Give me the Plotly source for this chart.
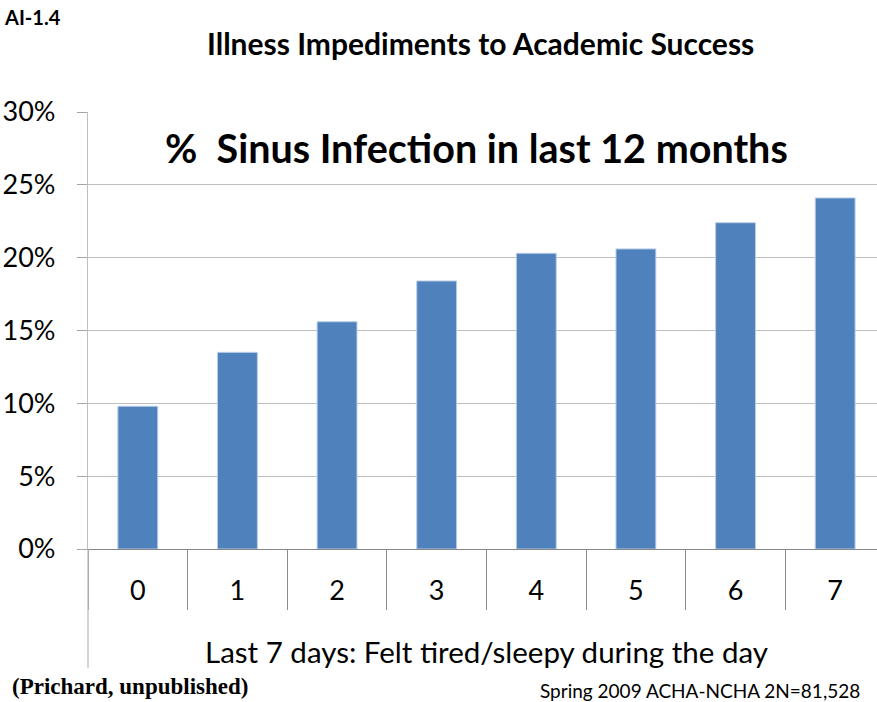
import plotly.graph_objects as go

categories = ["0", "1", "2", "3", "4", "5", "6", "7"]
values = [0.098, 0.135, 0.156, 0.184, 0.203, 0.206, 0.224, 0.241]
y_ticks = [0, 0.05, 0.10, 0.15, 0.20, 0.25, 0.30]
y_tick_labels = ["0%", "5%", "10%", "15%", "20%", "25%", "30%"]

chart_title = "%  Sinus Infection in last 12 months"
page_title = "Illness Impediments to Academic Success"
x_title = "Last 7 days: Felt tired/sleepy during the day"
code_label = "AI-1.4"
citation = "(Prichard, unpublished)"
source = "Spring 2009 ACHA-NCHA 2N=81,528"

FONT = "Lato, 'Open Sans', sans-serif"

fig = go.Figure()
fig.add_trace(go.Bar(
    x=categories,
    y=values,
    width=0.4,
    marker=dict(color="#4F81BD", line=dict(color="#B9CDE5", width=1)),
    hoverinfo="skip",
))

fig.update_layout(
    width=877, height=702,
    margin=dict(l=88, r=0, t=112, b=153),
    paper_bgcolor="white", plot_bgcolor="white",
    showlegend=False,
    font=dict(family=FONT, color="black"),
    xaxis=dict(
        type="category",
        range=[-0.5, 7.42],
        ticks="outside", ticklen=60, tickwidth=1, tickcolor="#8C8C8C",
        tickson="boundaries",
        ticklabelstandoff=18,
        tickfont=dict(size=27, family=FONT),
        showline=True, linecolor="#868686", linewidth=1,
        showgrid=False, zeroline=False,
        fixedrange=True,
    ),
    yaxis=dict(
        range=[0, 0.30],
        tickmode="array",
        tickvals=y_ticks,
        ticktext=y_tick_labels,
        ticks="outside", ticklen=10, tickwidth=1, tickcolor="#A6A6A6",
        ticklabelstandoff=16,
        tickfont=dict(size=27, family=FONT),
        showgrid=True, gridcolor="#BEBEBE", gridwidth=1.3,
        showline=True, linecolor="#BEBEBE", linewidth=1.3,
        zeroline=False,
        fixedrange=True,
    ),
    shapes=[
        dict(type="line", xref="paper", yref="paper", x0=0, x1=0,
             y0=0, y1=-0.273, line=dict(color="#BEBEBE", width=1.3)),
    ],
    annotations=[
        dict(text=chart_title, xref="paper", yref="paper", x=0.493, y=0.918,
             xanchor="center", yanchor="middle", showarrow=False,
             font=dict(size=39.5, family=FONT, color="black", weight="bold")),
        dict(text=page_title, xref="paper", yref="paper", x=0.497, y=1.0,
             yshift=69, xanchor="center", yanchor="middle", showarrow=False,
             font=dict(size=30, family=FONT, color="black", weight="bold")),
        dict(text=x_title, xref="paper", yref="paper", x=0.505, y=0, yshift=-102,
             xanchor="center", yanchor="middle", showarrow=False,
             font=dict(size=29.5, family=FONT, color="black")),
        dict(text=code_label, xref="paper", yref="paper", x=0, xshift=-86, y=1.0,
             yshift=95, xanchor="left", yanchor="middle", showarrow=False,
             font=dict(size=20, family=FONT, color="black", weight="bold")),
        dict(text=citation, xref="paper", yref="paper", x=0, xshift=-78, y=0,
             yshift=-137, xanchor="left", yanchor="middle", showarrow=False,
             font=dict(size=23, family="'Liberation Serif', 'Times New Roman', serif",
                       color="black", weight="bold")),
        dict(text=source, xref="paper", yref="paper", x=0, xshift=450, y=0,
             yshift=-141, xanchor="left", yanchor="middle", showarrow=False,
             font=dict(size=19, family=FONT, color="black")),
    ],
)

fig.write_html(
    "out.html",
    config={"displayModeBar": False},
    post_script="document.body.style.margin='0';document.body.style.overflow='hidden';",
)
